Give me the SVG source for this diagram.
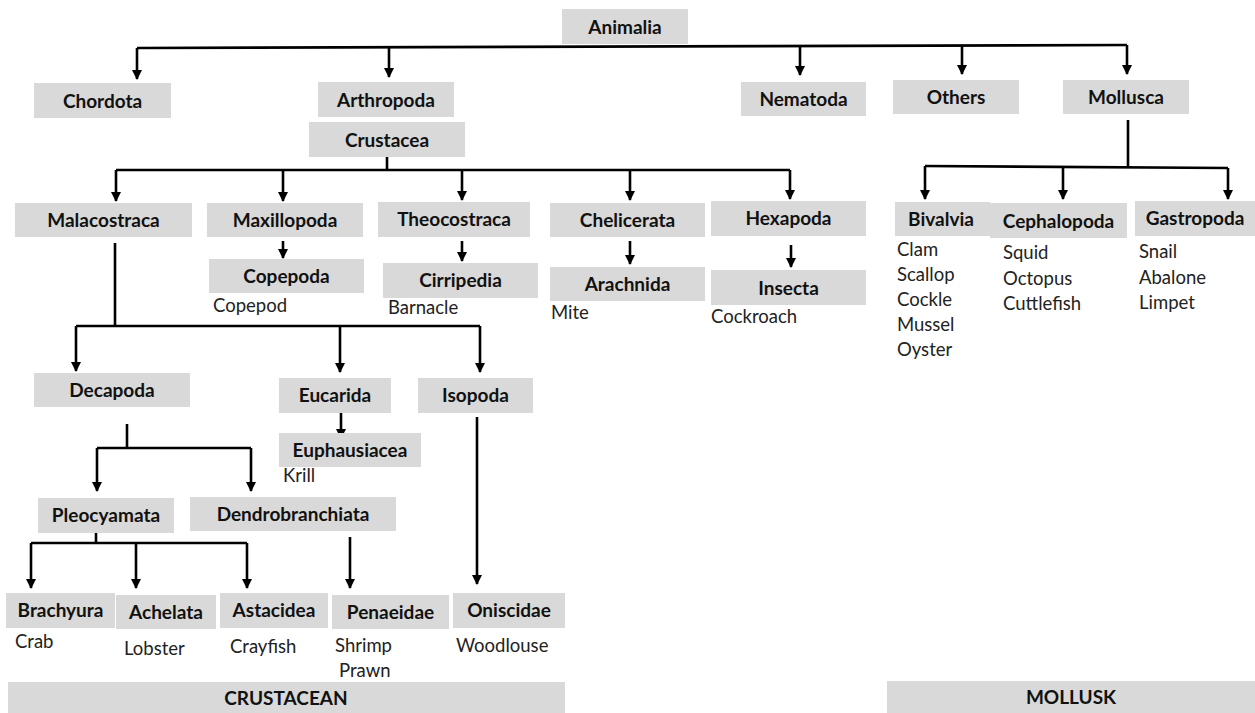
<svg xmlns="http://www.w3.org/2000/svg" width="1255" height="713" viewBox="0 0 1255 713">
<style>
.box{fill:#d9d9d9}
.t{font-family:Lato,"Open Sans","Liberation Sans",sans-serif;font-weight:bold;font-size:19px;fill:#111;text-anchor:middle}
.s{font-family:Lato,"Open Sans","Liberation Sans",sans-serif;font-size:18.5px;fill:#222}
.c{fill:none;stroke:#000;stroke-width:2.6}
</style>
<defs>
<marker id="ah" markerUnits="userSpaceOnUse" markerWidth="10" markerHeight="10" viewBox="0 0 10 10" refX="9" refY="5" orient="auto">
<path d="M0,0 L10,5 L0,10 z" fill="#000"/>
</marker>
</defs>
<rect width="1255" height="713" fill="#fff"/>
<g id="connectors">
<path class="c" d="M137,48 L1127,45"/>
<path class="c" d="M137,48 V79" marker-end="url(#ah)"/>
<path class="c" d="M389,47 V77" marker-end="url(#ah)"/>
<path class="c" d="M800,46 V75" marker-end="url(#ah)"/>
<path class="c" d="M962,45 V74" marker-end="url(#ah)"/>
<path class="c" d="M1127,45 V74" marker-end="url(#ah)"/>
<path class="c" d="M387,157 V170 M116,170 H790"/>
<path class="c" d="M116,170 V201" marker-end="url(#ah)"/>
<path class="c" d="M283,170 V201" marker-end="url(#ah)"/>
<path class="c" d="M462,170 V200" marker-end="url(#ah)"/>
<path class="c" d="M630,170 V200" marker-end="url(#ah)"/>
<path class="c" d="M790,170 V199" marker-end="url(#ah)"/>
<path class="c" d="M283,241 V258" marker-end="url(#ah)"/>
<path class="c" d="M462,241 V261" marker-end="url(#ah)"/>
<path class="c" d="M630,241 V264" marker-end="url(#ah)"/>
<path class="c" d="M791,245 V267" marker-end="url(#ah)"/>
<path class="c" d="M115,243 V326 M76,326 H480"/>
<path class="c" d="M76,326 V371" marker-end="url(#ah)"/>
<path class="c" d="M340,326 V372" marker-end="url(#ah)"/>
<path class="c" d="M480,326 V372" marker-end="url(#ah)"/>
<path class="c" d="M127,424 V448 M97,448 H251"/>
<path class="c" d="M97,448 V491" marker-end="url(#ah)"/>
<path class="c" d="M251,448 V491" marker-end="url(#ah)"/>
<path class="c" d="M341,413 V438" marker-end="url(#ah)"/>
<path class="c" d="M477,417 V584" marker-end="url(#ah)"/>
<path class="c" d="M96,533 V543 M31,543 H247"/>
<path class="c" d="M31,543 V588" marker-end="url(#ah)"/>
<path class="c" d="M136,543 V588" marker-end="url(#ah)"/>
<path class="c" d="M247,543 V588" marker-end="url(#ah)"/>
<path class="c" d="M350,537 V588" marker-end="url(#ah)"/>
<path class="c" d="M1128,120 V167 M925,166 L1228,168"/>
<path class="c" d="M925,166 V199" marker-end="url(#ah)"/>
<path class="c" d="M1063,167 V199" marker-end="url(#ah)"/>
<path class="c" d="M1228,168 V199" marker-end="url(#ah)"/>
</g>
<g id="animalia"><rect class="box" x="562" y="9" width="126" height="35"/><text class="t" x="625" y="33.5">Animalia</text></g>
<g id="chordota"><rect class="box" x="34" y="83" width="137" height="35"/><text class="t" x="102.5" y="107.5">Chordota</text></g>
<g id="arthropoda"><rect class="box" x="318" y="82" width="136" height="35"/><text class="t" x="386" y="106.5">Arthropoda</text></g>
<g id="nematoda"><rect class="box" x="741" y="82" width="125" height="34"/><text class="t" x="803.5" y="106">Nematoda</text></g>
<g id="others"><rect class="box" x="893" y="80" width="126" height="34"/><text class="t" x="956" y="104">Others</text></g>
<g id="mollusca"><rect class="box" x="1063" y="80" width="126" height="34"/><text class="t" x="1126" y="104">Mollusca</text></g>
<g id="crustacea"><rect class="box" x="309" y="122" width="156" height="35"/><text class="t" x="387" y="146.5">Crustacea</text></g>
<g id="malacostraca"><rect class="box" x="15" y="203" width="177" height="34"/><text class="t" x="103.5" y="227">Malacostraca</text></g>
<g id="maxillopoda"><rect class="box" x="207" y="203" width="156" height="34"/><text class="t" x="285" y="227">Maxillopoda</text></g>
<g id="theocostraca"><rect class="box" x="378" y="202" width="152" height="35"/><text class="t" x="454" y="226">Theocostraca</text></g>
<g id="chelicerata"><rect class="box" x="550" y="203" width="155" height="34"/><text class="t" x="627.5" y="227">Chelicerata</text></g>
<g id="hexapoda"><rect class="box" x="711" y="201" width="155" height="35"/><text class="t" x="788.5" y="225">Hexapoda</text></g>
<g id="copepoda"><rect class="box" x="209" y="259" width="155" height="34"/><text class="t" x="286.5" y="283">Copepoda</text><text class="s" x="213" y="312">Copepod</text></g>
<g id="cirripedia"><rect class="box" x="383" y="263" width="155" height="35"/><text class="t" x="460.5" y="287">Cirripedia</text><text class="s" x="388" y="314">Barnacle</text></g>
<g id="arachnida"><rect class="box" x="550" y="267" width="155" height="34"/><text class="t" x="627.5" y="291">Arachnida</text><text class="s" x="551" y="319">Mite</text></g>
<g id="insecta"><rect class="box" x="711" y="270" width="155" height="35"/><text class="t" x="788.5" y="294.5">Insecta</text><text class="s" x="711" y="323">Cockroach</text></g>
<g id="bivalvia"><rect class="box" x="895" y="202" width="95" height="34"/><text class="t" x="941" y="226">Bivalvia</text>
<text class="s" x="897" y="256">Clam</text><text class="s" x="897" y="281">Scallop</text><text class="s" x="897" y="306">Cockle</text><text class="s" x="897" y="331">Mussel</text><text class="s" x="897" y="356">Oyster</text></g>
<g id="cephalopoda"><rect class="box" x="990" y="203" width="137" height="35"/><text class="t" x="1058.5" y="227.5">Cephalopoda</text>
<text class="s" x="1003" y="259">Squid</text><text class="s" x="1003" y="285">Octopus</text><text class="s" x="1003" y="310">Cuttlefish</text></g>
<g id="gastropoda"><rect class="box" x="1135" y="201" width="120" height="35"/><text class="t" x="1195" y="225">Gastropoda</text>
<text class="s" x="1139" y="258">Snail</text><text class="s" x="1139" y="284">Abalone</text><text class="s" x="1139" y="309">Limpet</text></g>
<g id="decapoda"><rect class="box" x="34" y="373" width="156" height="34"/><text class="t" x="112" y="397">Decapoda</text></g>
<g id="eucarida"><rect class="box" x="279" y="378" width="112" height="35"/><text class="t" x="335" y="402">Eucarida</text></g>
<g id="isopoda"><rect class="box" x="418" y="378" width="115" height="35"/><text class="t" x="475.5" y="402">Isopoda</text></g>
<g id="euphausiacea"><rect class="box" x="279" y="433" width="142" height="34"/><text class="t" x="350" y="457">Euphausiacea</text><text class="s" x="283" y="482">Krill</text></g>
<g id="pleocyamata"><rect class="box" x="38" y="498" width="136" height="35"/><text class="t" x="106" y="522">Pleocyamata</text></g>
<g id="dendrobranchiata"><rect class="box" x="190" y="497" width="206" height="34"/><text class="t" x="293" y="521">Dendrobranchiata</text></g>
<g id="brachyura"><rect class="box" x="6" y="593" width="109" height="35"/><text class="t" x="60.5" y="617">Brachyura</text><text class="s" x="15" y="648">Crab</text></g>
<g id="achelata"><rect class="box" x="116" y="595" width="100" height="34"/><text class="t" x="166" y="619">Achelata</text><text class="s" x="124" y="655">Lobster</text></g>
<g id="astacidea"><rect class="box" x="220" y="593" width="108" height="35"/><text class="t" x="274" y="617">Astacidea</text><text class="s" x="230" y="653">Crayfish</text></g>
<g id="penaeidae"><rect class="box" x="332" y="595" width="117" height="34"/><text class="t" x="390.5" y="619">Penaeidae</text><text class="s" x="335" y="652">Shrimp</text><text class="s" x="339" y="677">Prawn</text></g>
<g id="oniscidae"><rect class="box" x="453" y="593" width="112" height="35"/><text class="t" x="509" y="617">Oniscidae</text><text class="s" x="456" y="652">Woodlouse</text></g>
<g id="crustacean"><rect class="box" x="8" y="682" width="557" height="31"/><text class="t" x="286" y="704.5">CRUSTACEAN</text></g>
<g id="mollusk"><rect class="box" x="887" y="681" width="368" height="32"/><text class="t" x="1071" y="704">MOLLUSK</text></g>
</svg>
